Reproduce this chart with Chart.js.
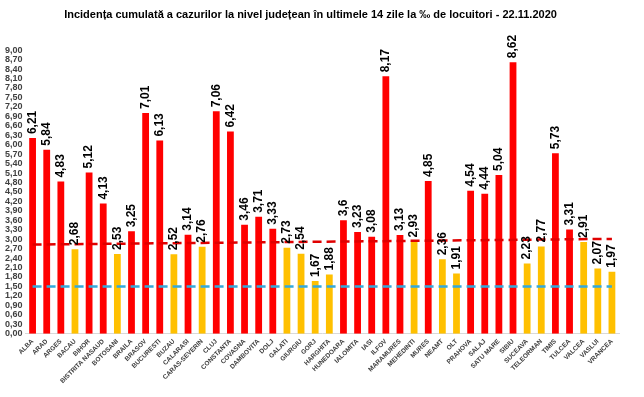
<!DOCTYPE html>
<html>
<head>
<meta charset="utf-8">
<script src="https://cdn.jsdelivr.net/npm/chart.js@4.4.0/dist/chart.umd.min.js"></script>
<style>
  html, body { margin: 0; padding: 0; background: #fff; }
  #wrap { width: 644px; height: 397px; }
</style>
</head>
<body>
<div id="wrap"><canvas id="incChart" width="644" height="397"></canvas></div>
<script>
const judete = ["ALBA", "ARAD", "ARGES", "BACAU", "BIHOR", "BISTRITA NASAUD", "BOTOSANI", "BRAILA", "BRASOV", "BUCURESTI",
  "BUZAU", "CALARASI", "CARAS-SEVERIN", "CLUJ", "CONSTANTA", "COVASNA", "DAMBOVITA", "DOLJ", "GALATI", "GIURGIU",
  "GORJ", "HARGHITA", "HUNEDOARA", "IALOMITA", "IASI", "ILFOV", "MARAMURES", "MEHEDINTI", "MURES", "NEAMT",
  "OLT", "PRAHOVA", "SALAJ", "SATU MARE", "SIBIU", "SUCEAVA", "TELEORMAN", "TIMIS", "TULCEA", "VALCEA",
  "VASLUI", "VRANCEA"];
const incidenta = [6.21, 5.84, 4.83, 2.68, 5.12, 4.13, 2.53, 3.25, 7.01, 6.13,
  2.52, 3.14, 2.76, 7.06, 6.42, 3.46, 3.71, 3.33, 2.73, 2.54,
  1.67, 1.88, 3.6, 3.23, 3.08, 8.17, 3.13, 2.93, 4.85, 2.36,
  1.91, 4.54, 4.44, 5.04, 8.62, 2.23, 2.77, 5.73, 3.31, 2.91,
  2.07, 1.97];
// red threshold line is drawn slightly tilted in the original
const pragRosu = [2.83, 3.01];
const pragAlbastru = 1.5;

const redLine = judete.map((_, i) => i === 0 ? pragRosu[0] : (i === judete.length - 1 ? pragRosu[1] : null));
const blueLine = judete.map(() => pragAlbastru);

const valueLabels = {
  id: 'valueLabels',
  afterDatasetsDraw(chart) {
    const ctx = chart.ctx;
    const meta = chart.getDatasetMeta(2);
    ctx.save();
    ctx.fillStyle = '#000';
    ctx.font = 'bold 12px "Liberation Sans", Arial, sans-serif';
    ctx.textAlign = 'left';
    ctx.textBaseline = 'middle';
    meta.data.forEach((bar, i) => {
      const txt = String(incidenta[i]).replace('.', ',');
      ctx.save();
      ctx.translate(bar.x, bar.y - 4);
      ctx.rotate(-Math.PI / 2);
      ctx.fillText(txt, 0, 0);
      ctx.restore();
    });
    ctx.restore();
  }
};

const ctx = document.getElementById('incChart').getContext('2d');
new Chart(ctx, {
  data: {
    labels: judete,
    datasets: [
      {
        type: 'line',
        data: redLine,
        borderColor: '#E00000',
        borderWidth: 2.5,
        borderDash: [9, 5],
        pointRadius: 0,
        spanGaps: true,
        order: 0
      },
      {
        type: 'line',
        data: blueLine,
        borderColor: '#33A9DC',
        borderWidth: 2.5,
        borderDash: [9, 5],
        pointRadius: 0,
        order: 0
      },
      {
        type: 'bar',
        data: incidenta,
        backgroundColor: incidenta.map(v => v > 3 ? '#FF0000' : '#FFC000'),
        barPercentage: 0.48,
        categoryPercentage: 1.0,
        order: 1
      }
    ]
  },
  options: {
    responsive: false,
    animation: false,
    layout: { padding: { left: 2, right: 25, top: 8, bottom: 8 } },
    plugins: {
      legend: { display: false },
      tooltip: { enabled: false },
      title: {
        display: true,
        text: 'Incidența cumulată a cazurilor la nivel județean în ultimele 14 zile la ‰ de locuitori - 22.11.2020',
        color: '#000',
        font: { family: '"Liberation Sans", Arial, sans-serif', size: 11, weight: 'bold' },
        padding: { top: 0, bottom: 29 }
      }
    },
    scales: {
      x: {
        grid: { display: false, drawTicks: false },
        border: { display: true, color: '#D9D9D9' },
        ticks: {
          autoSkip: false,
          maxRotation: 45,
          minRotation: 45,
          color: '#404040',
          padding: 4,
          font: { family: '"Liberation Sans", Arial, sans-serif', size: 6.5, weight: 'bold' }
        }
      },
      y: {
        min: 0,
        max: 9,
        grid: { display: false, drawTicks: false },
        border: { display: false },
        ticks: {
          stepSize: 0.3,
          autoSkip: false,
          color: '#404040',
          padding: 3,
          font: { family: '"Liberation Sans", Arial, sans-serif', size: 9, weight: 'bold' },
          callback: v => v.toFixed(2).replace('.', ',')
        }
      }
    }
  },
  plugins: [valueLabels]
});
</script>
</body>
</html>
